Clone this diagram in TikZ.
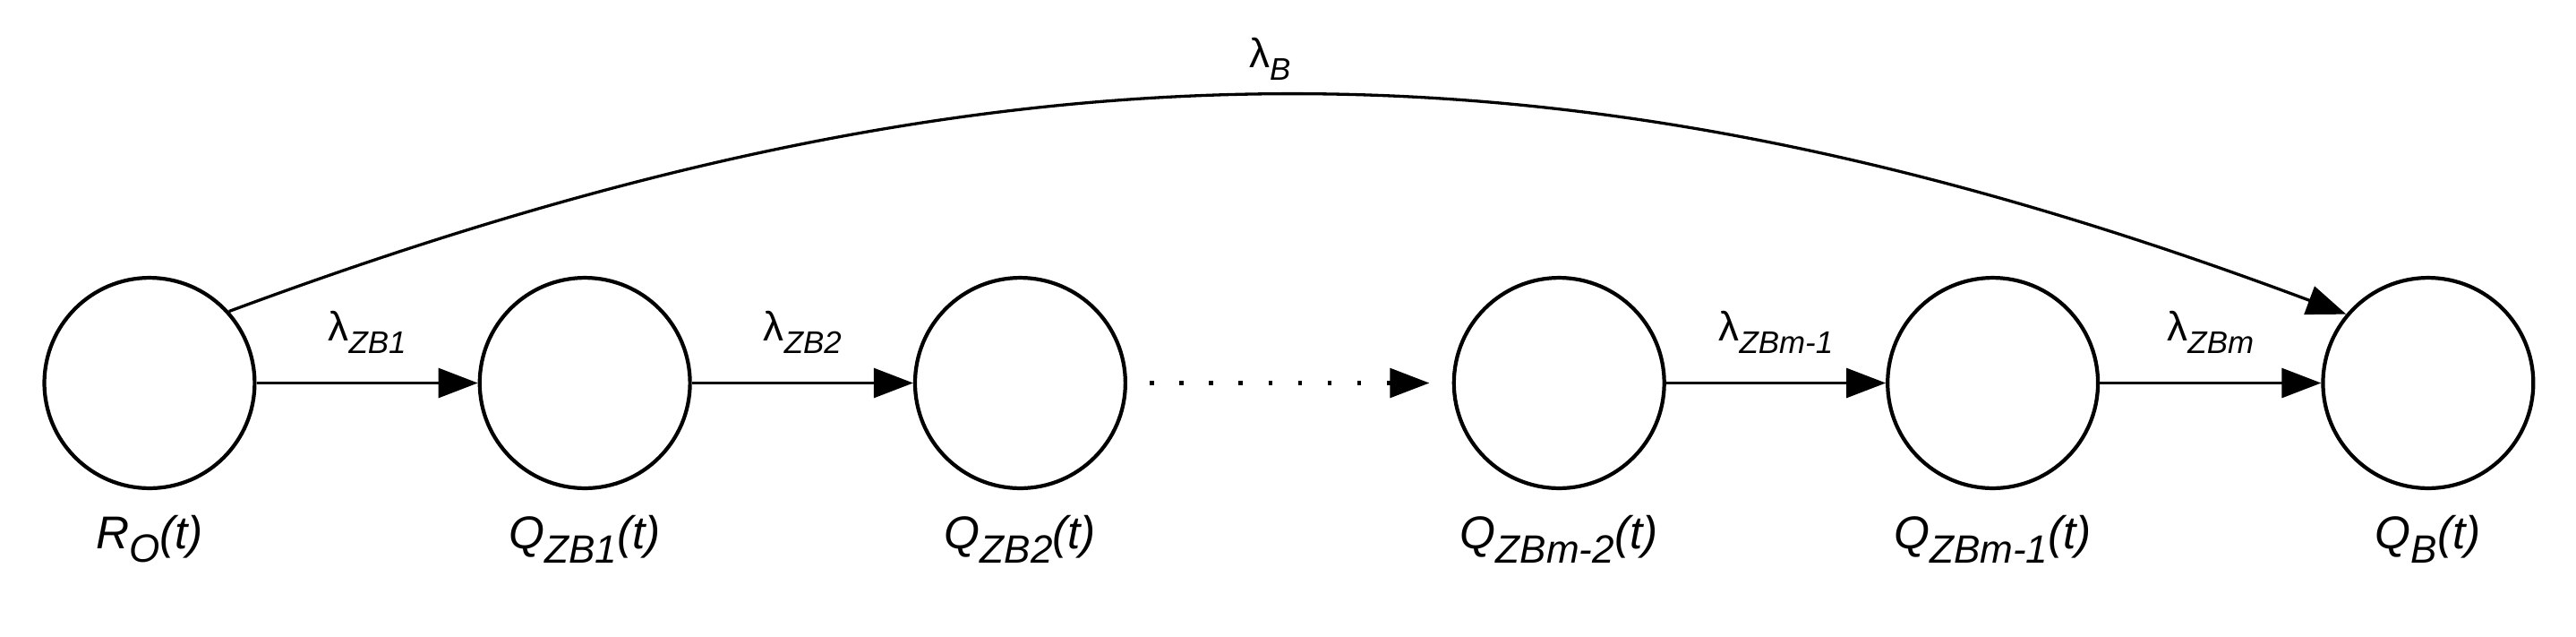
\documentclass[tikz,border=0pt]{standalone}
\usepackage{fontspec}
\setmainfont{Liberation Sans}
\usetikzlibrary{arrows.meta}
\newcommand{\mysub}[1]{\raisebox{-0.3em}{\fontsize{19}{20}\selectfont\itshape #1}}
\newcommand{\mylsub}[1]{\raisebox{-0.3em}{\fontsize{24}{26}\selectfont\itshape #1}}
\begin{document}
\begin{tikzpicture}[x=1pt,y=-1pt,
  st/.style={circle,draw,line width=2.3pt,minimum size=128pt,inner sep=0pt},
  lab/.style={font=\fontsize{28}{30}\selectfont\itshape},
  rate/.style={font=\fontsize{25}{28}\selectfont},
  conn/.style={line width=1.5pt,-{Triangle[length=24pt,width=18pt]}}]
\useasboundingbox (0,0) rectangle (1568,387);
\node[st] (r) at (91,233) {};
\node[st] (q1) at (356,233) {};
\node[st] (q2) at (621,233) {};
\node[st] (qm2) at (949,233) {};
\node[st] (qm1) at (1213,233) {};
\node[st] (qb) at (1478,233) {};
\node[lab] at (91,328) {R\mylsub{O}(t)};
\node[lab] at (356,328) {Q\mylsub{ZB1}(t)};
\node[lab] at (621,328) {Q\mylsub{ZB2}(t)};
\node[lab] at (949,328) {Q\mylsub{ZBm-2}(t)};
\node[lab] at (1213,328) {Q\mylsub{ZBm-1}(t)};
\node[lab] at (1478,328) {Q\mylsub{B}(t)};
\draw[conn] (r) -- (q1) node[midway,above=14pt,rate] {λ\mysub{ZB1}};
\draw[conn] (q1) -- (q2) node[midway,above=14pt,rate] {λ\mysub{ZB2}};
\draw[conn] (qm2) -- (qm1) node[midway,above=14pt,rate] {λ\mysub{ZBm-1}};
\draw[conn] (qm1) -- (qb) node[midway,above=14pt,rate] {λ\mysub{ZBm}};
\coordinate (ds) at (700,233);
\coordinate (de) at (870,233);
\draw[line width=2.6pt,dash pattern=on 2.6pt off 15.4pt] (ds) -- (850,233);
\draw[conn] (845,233) -- (de);
\draw[conn,line width=1.8pt] (r.42) .. controls (612,14) and (955,14) .. (qb.140);
\node[rate] at (773,36) {λ\mysub{B}};
\end{tikzpicture}
\end{document}
